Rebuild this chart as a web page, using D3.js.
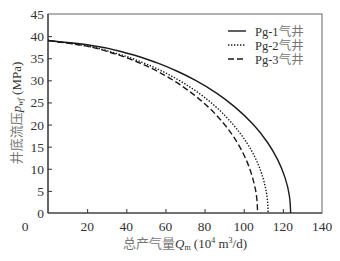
<!DOCTYPE html>
<html lang="zh">
<head>
<meta charset="UTF-8">
<title>Pg wells IPR</title>
<script src="https://d3js.org/d3.v7.min.js"></script>
<style>
  body { margin: 0; background: #fff; }
  svg { display: block; }
  .tick-label { font-family: "Liberation Serif", "DejaVu Serif", serif; font-size: 13.5px; fill: #333; }
  .ttl { font-family: "Liberation Serif", "Noto Sans CJK SC", serif; font-size: 13px; fill: #333; }
  .leg { font-family: "Liberation Serif", "Noto Sans CJK SC", serif; font-size: 12.5px; fill: #333; }
  .cjk { fill: #777; }
</style>
</head>
<body>
<div id="chart"></div>
<script>
// pressure levels (MPa) and gas rate (10^4 m3/d)
const pLevels = [39, 38, 36, 34, 32, 30, 27, 24, 20, 16, 12, 8, 4, 0];
const q1 = [0, 20.7, 41.4, 55.4, 66.3, 75.4, 86.5, 95.4, 104.9, 112.1, 117.4, 121.1, 123.3, 124.0];
const q2 = [0, 16.8, 35.6, 48.5, 58.6, 67.0, 77.4, 85.8, 94.6, 101.4, 106.4, 109.8, 111.8, 112.5];
const q3 = [0, 16.3, 34.2, 46.4, 56.1, 64.0, 73.8, 81.8, 90.2, 96.6, 101.3, 104.5, 106.5, 107.1];
const seriesNames = ["Pg-1", "Pg-2", "Pg-3"];
const dashes = [null, "1.4,1.6", "6,3"];
const xTicks = [20, 40, 60, 80, 100, 120, 140];
const yTicks = [0, 5, 10, 15, 20, 25, 30, 35, 40, 45];

const W = 340, H = 261;
const m = {left: 48, right: 18, top: 14, bottom: 48};

const svg = d3.select('#chart').append('svg')
  .attr('width', W).attr('height', H);

const x = d3.scaleLinear().domain([0, 140]).range([m.left, W - m.right]);
const y = d3.scaleLinear().domain([0, 45]).range([H - m.bottom, m.top]);

// frame
svg.append('rect')
  .attr('x', x(0)).attr('y', y(45))
  .attr('width', x(140) - x(0)).attr('height', y(0) - y(45))
  .attr('fill', 'none').attr('stroke', '#888').attr('stroke-width', 1.3);
svg.append('line').attr('x1', x(0)).attr('x2', x(0)).attr('y1', y(45)).attr('y2', y(0))
  .attr('stroke', '#333').attr('stroke-width', 1.2);
svg.append('line').attr('x1', x(0)).attr('x2', x(140)).attr('y1', y(0)).attr('y2', y(0))
  .attr('stroke', '#333').attr('stroke-width', 1.2);

// inward ticks
const xa = svg.append('g').attr('transform', `translate(0,${y(0)})`)
  .call(d3.axisTop(x).tickValues(xTicks.slice(0, -1)).tickSize(4).tickFormat(''));
xa.select('.domain').remove();
xa.selectAll('line').attr('stroke', '#333');
const ya = svg.append('g').attr('transform', `translate(${x(0)},0)`)
  .call(d3.axisRight(y).tickValues(yTicks.slice(1, -1)).tickSize(4).tickFormat(''));
ya.select('.domain').remove();
ya.selectAll('line').attr('stroke', '#333');

// tick labels
svg.selectAll('.xl').data(xTicks).enter().append('text')
  .attr('class', 'tick-label').attr('x', d => x(d)).attr('y', 231)
  .attr('text-anchor', 'middle').text(d => d);
svg.append('text').attr('class', 'tick-label').attr('x', 25).attr('y', 231)
  .attr('text-anchor', 'middle').text('0');
svg.selectAll('.yl').data(yTicks).enter().append('text')
  .attr('class', 'tick-label').attr('x', 44).attr('y', d => y(d) + 5)
  .attr('text-anchor', 'end').text(d => d);

// curves
const line = d3.line().x(d => x(d[0])).y(d => y(d[1])).curve(d3.curveMonotoneY);
[q1, q2, q3].forEach((qs, i) => {
  svg.append('path')
    .datum(qs.map((q, k) => [q, pLevels[k]]))
    .attr('d', line)
    .attr('fill', 'none').attr('stroke', '#1a1a1a').attr('stroke-width', 1.4)
    .attr('stroke-dasharray', dashes[i]);
});

// legend
seriesNames.forEach((name, i) => {
  const ly = 31 + i * 14;
  svg.append('line').attr('x1', 228).attr('x2', 246).attr('y1', ly).attr('y2', ly)
    .attr('stroke', '#1a1a1a').attr('stroke-width', 1.4).attr('stroke-dasharray', dashes[i]);
  const t = svg.append('text').attr('class', 'leg').attr('x', 255).attr('y', ly + 4.5);
  t.append('tspan').text(name);
  t.append('tspan').attr('class', 'cjk').text('气井');
});

// axis titles
const xt = svg.append('text').attr('class', 'ttl').attr('x', 185).attr('y', 248).attr('text-anchor', 'middle');
xt.append('tspan').attr('class', 'cjk').text('总产气量');
xt.append('tspan').attr('font-style', 'italic').text('Q');
xt.append('tspan').attr('font-size', '8px').attr('dy', 2).text('m');
xt.append('tspan').attr('dy', -2).text(' (10');
xt.append('tspan').attr('font-size', '8px').attr('dy', -5).text('4');
xt.append('tspan').attr('dy', 5).text(' m');
xt.append('tspan').attr('font-size', '8px').attr('dy', -5).text('3');
xt.append('tspan').attr('dy', 5).text('/d)');

const yt = svg.append('text').attr('class', 'ttl')
  .attr('transform', 'translate(21,113) rotate(-90)').attr('text-anchor', 'middle');
yt.append('tspan').attr('class', 'cjk').text('井底流压');
yt.append('tspan').attr('font-style', 'italic').text('p');
yt.append('tspan').attr('font-size', '8px').attr('font-style', 'italic').attr('dy', 2).text('wf');
yt.append('tspan').attr('dy', -2).text(' (MPa)');
</script>
</body>
</html>
